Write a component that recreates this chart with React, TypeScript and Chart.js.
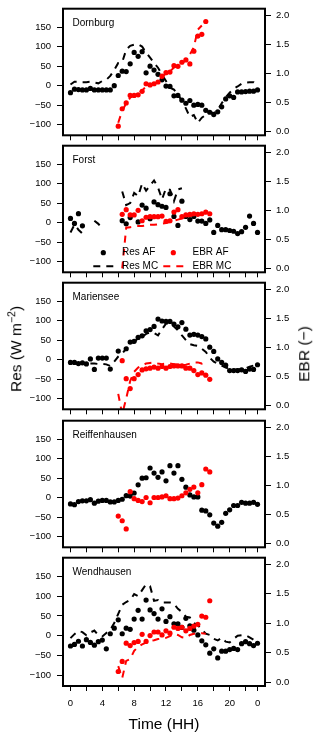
import React, { useEffect, useRef } from "react";
import { Chart, registerables } from "chart.js";

Chart.register(...registerables);

const N = null;
const FONT = 'Arial, "Liberation Sans", Helvetica, sans-serif';
Chart.defaults.font.family = FONT;

// ---- axes / categories ----
const TIME_HH = [0,0.5,1,1.5,2,2.5,3,3.5,4,4.5,5,5.5,6,6.5,7,7.5,8,8.5,9,9.5,10,10.5,11,11.5,12,12.5,13,13.5,14,14.5,15,15.5,16,16.5,17,17.5,18,18.5,19,19.5,20,20.5,21,21.5,22,22.5,23,23.5];
const X_TICKS = [0,2,4,6,8,10,12,14,16,18,20,22,23.5];
const X_TICK_LABELS = ["0","","4","","8","","12","","16","","20","","0"];
const RES_TICKS = [-100,-50,0,50,100,150];
const RES_TICK_LABELS = ["\u2212100","\u221250","0","50","100","150"];
const EBR_TICKS = [0,0.5,1,1.5,2];
const EBR_TICK_LABELS = ["0.0","0.5","1.0","1.5","2.0"];
const SITES = ["Dornburg","Forst","Mariensee","Reiffenhausen","Wendhausen"];
const LEGEND_LABELS = ["Res AF","EBR AF","Res MC","EBR MC"];

// ---- Dornburg ----
const resAF_Dornburg = [-18,-9,-10,-11,-11,-7,-11,-11,-11,-11,-11,0,26,37,36,56,85,75,87,33,50,40,29,15,-1,-2,-26,-25,-37,-45,-38,-50,-48,-50,-63,-68,-74,-67,-54,-34,-26,-30,-16,-16,-15,-14,-14,-11];
const resMC_Dornburg = [3,10,10,9,9,10,8,6,12,15,25,40,58,60,92,102,105,106,100,85,72,58,46,28,12,-5,-10,-22,-40,-58,-80,-75,-95,-82,-75,-68,-70,-62,-45,-30,-18,-8,-2,5,8,9,9,3];
const ebrAF_Dornburg = [N,N,N,N,N,N,N,N,N,N,N,N,0.09,0.39,0.49,0.62,0.62,0.63,0.69,0.82,0.80,0.82,0.85,0.95,1.01,1.02,1.13,1.12,1.19,1.23,1.16,1.38,1.64,1.67,1.89,N,N,N,N,N,N,N,N,N,N,N,N,N];
const ebrMC_Dornburg = [N,N,N,N,N,N,N,N,N,N,N,N,0.15,0.36,0.48,0.58,0.62,0.65,0.70,0.78,0.80,0.81,0.86,0.93,1.00,1.03,1.10,1.14,1.18,1.22,1.32,1.45,1.75,1.82,N,N,N,N,N,N,N,N,N,N,N,N,N,N];

// ---- Forst ----
const resAF_Forst = [11,-2,23,-8,N,N,N,N,N,N,N,N,N,5,-3,13,N,2,45,37,10,53,46,42,39,74,16,-7,55,16,8,16,4,4,-2,7,-25,-7,-18,-18,-20,-22,-28,-23,-12,17,-2,-25];
const resMC_Forst = [-25,-5,-18,-28,N,N,5,-3,-15,N,N,N,N,80,45,50,76,68,100,82,95,108,90,60,88,84,55,85,88,N,N,N,N,N,N,N,N,N,N,N,N,N,N,N,N,N,N,N];
const ebrAF_Forst = [N,N,N,N,N,N,N,N,N,N,N,N,N,0.93,1.01,0.92,0.92,1.0,0.82,0.88,0.89,0.89,0.89,0.90,0.81,0.82,0.97,1.01,0.89,0.92,0.93,0.94,0.93,0.94,0.97,0.94,N,N,N,N,N,N,N,N,N,N,N,N];
const ebrMC_Forst = [N,N,N,N,N,N,N,N,N,N,N,N,N,0.0,0.70,0.71,0.72,0.73,0.73,0.74,0.75,0.75,0.76,0.77,0.78,0.80,0.82,0.84,0.86,0.88,0.90,0.92,0.93,0.94,0.95,0.96,N,N,N,N,N,N,N,N,N,N,N,N];

// ---- Mariensee ----
const resAF_Mariensee = [-7,-7,-10,-8,-11,2,-25,4,4,4,-24,N,22,N,28,45,47,57,61,74,77,85,104,99,98,98,91,84,95,78,63,65,63,59,53,32,21,2,-7,-14,-28,-28,-28,-26,-30,-24,-25,-13];
const resMC_Mariensee = [N,N,N,N,N,-10,-10,-11,-11,-12,-16,-5,8,16,28,38,45,55,58,66,70,68,62,78,92,95,85,75,62,50,40,37,35,28,20,5,-5,-10,-15,-20,-23,-25,-25,-24,-22,-18,-15,-14];
const ebrAF_Mariensee = [N,N,N,N,N,N,N,N,N,N,N,N,N,0.77,0.46,0.29,0.46,0.53,0.61,0.63,0.64,0.66,0.64,0.67,0.64,0.67,0.68,0.68,0.68,0.64,0.64,0.60,0.53,0.56,0.52,0.45,N,N,N,N,N,N,N,N,N,N,N,N];
const ebrMC_Mariensee = [N,N,N,N,N,N,N,N,N,N,N,N,0.2,-0.15,0.12,0.42,0.58,0.65,0.69,0.72,0.73,0.74,0.72,0.71,0.72,0.72,0.71,0.70,0.69,0.70,0.72,0.74,0.74,0.72,0.75,N,N,N,N,N,N,N,N,N,N,N,N,N];

// ---- Reiffenhausen ----
const resAF_Reiffenhausen = [-16,-18,-10,-8,-8,-5,-14,-9,-7,-7,-11,-11,-7,-4,5,4,12,33,50,51,76,63,52,66,43,82,63,82,47,27,7,2,2,-32,-34,-44,-65,-73,-63,-40,-31,-20,-20,-12,-14,-14,-12,-17];
const resMC_Reiffenhausen: (number | null)[] = [];
const ebrAF_Reiffenhausen = [N,N,N,N,N,N,N,N,N,N,N,N,0.47,0.39,0.25,0.89,0.77,0.74,0.72,0.79,0.70,0.79,0.79,0.80,0.82,0.77,0.77,0.78,0.82,0.87,0.93,0.97,0.87,1.01,1.28,1.23,N,N,N,N,N,N,N,N,N,N,N,N];
const ebrMC_Reiffenhausen: (number | null)[] = [];

// ---- Wendhausen ----
const resAF_Wendhausen = [-26,-22,-14,-26,-10,-17,-24,-15,-11,-33,5,19,40,5,19,16,42,64,42,90,65,56,42,68,36,48,30,30,21,44,25,14,2,-13,-23,-44,-33,-56,-39,-39,-35,-32,-35,-20,-15,-20,-25,-19];
const resMC_Wendhausen = [-6,4,12,9,1,8,13,1,-2,7,15,32,55,78,85,90,105,100,115,130,125,88,90,84,84,84,80,68,60,48,46,32,27,15,5,2,-8,-12,-5,-15,-17,-8,0,1,1,-4,-10,-14];
const ebrAF_Wendhausen = [N,N,N,N,N,N,N,N,N,N,N,N,0.18,0.35,0.66,0.62,0.67,0.69,0.81,0.69,0.79,0.85,0.85,0.80,0.87,0.83,0.93,0.91,0.93,0.87,0.91,0.95,0.98,1.12,1.10,1.38,N,N,N,N,N,N,N,N,N,N,N,N];
const ebrMC_Wendhausen = [N,N,N,N,N,N,N,N,N,N,N,N,0.27,0.07,0.36,0.39,0.53,0.60,0.64,0.67,0.70,0.71,0.73,0.74,0.75,0.78,0.82,0.80,0.76,0.75,0.80,0.82,0.82,0.83,0.82,N,N,N,N,N,N,N,N,N,N,N,N,N];

const RED = "#ff0000";
const BLACK = "#000000";
const DASH = [7, 6];
const DOT_R = 2.6;
const BOX_H = 132;
const PAD_TOP = 8;
const LEFT_W = 63;
const RIGHT_W = 55;

type Series = (number | null)[];
type PanelProps = {
  name: string;
  resAF: Series;
  resMC: Series;
  ebrAF: Series;
  ebrMC: Series;
  top: number;
  showX: boolean;
  legend: boolean;
};

const toPts = (arr: Series) =>
  arr.length ? TIME_HH.map((x, i) => ({ x, y: arr[i] })) : [];

function Panel({ name, resAF, resMC, ebrAF, ebrMC, top, showX, legend }: PanelProps) {
  const ref = useRef<HTMLCanvasElement | null>(null);
  const bottomExtra = showX ? 34 : 10;
  const canvasTop = top - PAD_TOP;
  const H = PAD_TOP + BOX_H + bottomExtra;

  useEffect(() => {
    if (!ref.current) return;
    const decor = {
      id: "decor" + name,
      afterDatasetsDraw(chart: any) {
        const { ctx, chartArea } = chart;
        const { left, top: t, right, bottom } = chartArea;
        ctx.save();
        // panel title
        ctx.fillStyle = BLACK;
        ctx.font = `10px ${FONT}`;
        ctx.textAlign = "left";
        ctx.textBaseline = "alphabetic";
        ctx.fillText(name, left + 9.5, t + 17.5);
        if (legend) {
          const r1 = t + 107;
          const r2 = t + 120.5;
          ctx.textBaseline = "middle";
          // points
          ctx.fillStyle = BLACK;
          ctx.beginPath();
          ctx.arc(left + 40.3, r1, DOT_R, 0, Math.PI * 2);
          ctx.fill();
          ctx.fillStyle = RED;
          ctx.beginPath();
          ctx.arc(left + 110.3, r1, DOT_R, 0, Math.PI * 2);
          ctx.fill();
          // dashes
          ctx.lineWidth = 2;
          ctx.setLineDash(DASH);
          ctx.strokeStyle = BLACK;
          ctx.beginPath();
          ctx.moveTo(left + 30.3, r2);
          ctx.lineTo(left + 50.3, r2);
          ctx.stroke();
          ctx.strokeStyle = RED;
          ctx.beginPath();
          ctx.moveTo(left + 100.3, r2);
          ctx.lineTo(left + 120.3, r2);
          ctx.stroke();
          ctx.setLineDash([]);
          ctx.fillStyle = BLACK;
          ctx.fillText(LEGEND_LABELS[0], left + 59, r1);
          ctx.fillText(LEGEND_LABELS[1], left + 129.5, r1);
          ctx.fillText(LEGEND_LABELS[2], left + 59, r2);
          ctx.fillText(LEGEND_LABELS[3], left + 129.5, r2);
        }
        // box
        ctx.lineWidth = 2;
        ctx.strokeStyle = BLACK;
        ctx.strokeRect(left, t, right - left, bottom - t);
        ctx.restore();
      },
    };

    const datasets: any[] = [];
    if (ebrMC.length)
      datasets.push({
        type: "line", label: "EBR MC", data: toPts(ebrMC), yAxisID: "yR",
        borderColor: RED, borderWidth: 2, borderDash: DASH, pointRadius: 0,
        spanGaps: false, fill: false, tension: 0, order: 0,
      });
    datasets.push({
      type: "scatter", label: "EBR AF", data: toPts(ebrAF), yAxisID: "yR",
      backgroundColor: RED, borderColor: RED, borderWidth: 0,
      pointRadius: DOT_R, pointBorderWidth: 0, showLine: false, order: 1,
    });
    if (resMC.length)
      datasets.push({
        type: "line", label: "Res MC", data: toPts(resMC), yAxisID: "yL",
        borderColor: BLACK, borderWidth: 2, borderDash: DASH, pointRadius: 0,
        spanGaps: false, fill: false, tension: 0, order: 2,
      });
    datasets.push({
      type: "scatter", label: "Res AF", data: toPts(resAF), yAxisID: "yL",
      backgroundColor: BLACK, borderColor: BLACK, borderWidth: 0,
      pointRadius: DOT_R, pointBorderWidth: 0, showLine: false, order: 3,
    });

    const tickFont = { size: 9.5, family: FONT };
    const chart = new Chart(ref.current, {
      type: "scatter",
      data: { datasets },
      plugins: [decor],
      options: {
        animation: false,
        responsive: false,
        events: [],
        layout: { padding: { top: PAD_TOP, left: 0, right: 0, bottom: 0 } },
        plugins: { legend: { display: false }, tooltip: { enabled: false }, title: { display: false } },
        scales: {
          x: {
            type: "linear",
            min: -0.94,
            max: 24.44,
            afterBuildTicks: (s: any) => { s.ticks = X_TICKS.map((v) => ({ value: v })); },
            afterFit: (s: any) => { s.height = bottomExtra; },
            ticks: {
              autoSkip: false, maxRotation: 0, minRotation: 0, color: BLACK, font: tickFont, padding: 7,
              callback: (_v: any, i: number) => (showX ? X_TICK_LABELS[i] : ""),
            },
            grid: { drawOnChartArea: false, drawTicks: true, tickLength: 5, color: BLACK, lineWidth: 1 },
            border: { display: false },
          },
          yL: {
            type: "linear",
            position: "left",
            min: -127,
            max: 197,
            afterBuildTicks: (s: any) => { s.ticks = RES_TICKS.map((v) => ({ value: v })); },
            afterFit: (s: any) => { s.width = LEFT_W; },
            ticks: { color: BLACK, font: tickFont, padding: 6, callback: (_v: any, i: number) => RES_TICK_LABELS[i] },
            grid: { drawOnChartArea: false, drawTicks: true, tickLength: 6, color: BLACK, lineWidth: 1 },
            border: { display: false },
          },
          yR: {
            type: "linear",
            position: "right",
            min: -0.066,
            max: 2.11,
            afterBuildTicks: (s: any) => { s.ticks = EBR_TICKS.map((v) => ({ value: v })); },
            afterFit: (s: any) => { s.width = RIGHT_W; },
            ticks: { color: BLACK, font: tickFont, padding: 5, callback: (_v: any, i: number) => EBR_TICK_LABELS[i] },
            grid: { drawOnChartArea: false, drawTicks: true, tickLength: 6, color: BLACK, lineWidth: 1 },
            border: { display: false },
          },
        },
      } as any,
    });
    return () => chart.destroy();
  }, []);

  return (
    <canvas
      ref={ref}
      width={320}
      height={H}
      style={{ position: "absolute", left: 0, top: canvasTop, width: 320, height: H }}
    />
  );
}

const PANEL_TOPS = [5, 142, 279, 417, 554];

export default function App() {
  const panels = [
    { resAF: resAF_Dornburg, resMC: resMC_Dornburg, ebrAF: ebrAF_Dornburg, ebrMC: ebrMC_Dornburg },
    { resAF: resAF_Forst, resMC: resMC_Forst, ebrAF: ebrAF_Forst, ebrMC: ebrMC_Forst },
    { resAF: resAF_Mariensee, resMC: resMC_Mariensee, ebrAF: ebrAF_Mariensee, ebrMC: ebrMC_Mariensee },
    { resAF: resAF_Reiffenhausen, resMC: resMC_Reiffenhausen, ebrAF: ebrAF_Reiffenhausen, ebrMC: ebrMC_Reiffenhausen },
    { resAF: resAF_Wendhausen, resMC: resMC_Wendhausen, ebrAF: ebrAF_Wendhausen, ebrMC: ebrMC_Wendhausen },
  ];
  const labelStyle: React.CSSProperties = {
    position: "absolute",
    fontFamily: FONT,
    fontSize: 15.5,
    color: BLACK,
    whiteSpace: "nowrap",
    lineHeight: 1,
  };
  return (
    <div style={{ position: "fixed", left: 0, top: 0, width: 320, height: 738, background: "#fff", overflow: "hidden" }}>
      {panels.map((p, k) => (
        <Panel
          key={SITES[k]}
          name={SITES[k]}
          resAF={p.resAF}
          resMC={p.resMC}
          ebrAF={p.ebrAF}
          ebrMC={p.ebrMC}
          top={PANEL_TOPS[k]}
          showX={k === 4}
          legend={k === 1}
        />
      ))}
      <div style={{ ...labelStyle, left: 16, top: 349, transform: "translate(-50%, -50%) rotate(-90deg)" }}>
        Res (W m<span style={{ fontSize: 10.5, position: "relative", top: -6 }}>{"\u22122"}</span>)
      </div>
      <div style={{ ...labelStyle, left: 304, top: 354, transform: "translate(-50%, -50%) rotate(-90deg)" }}>
        EBR ({"\u2212"})
      </div>
      <div style={{ ...labelStyle, left: 164, top: 724, transform: "translate(-50%, -50%)" }}>
        Time (HH)
      </div>
    </div>
  );
}
